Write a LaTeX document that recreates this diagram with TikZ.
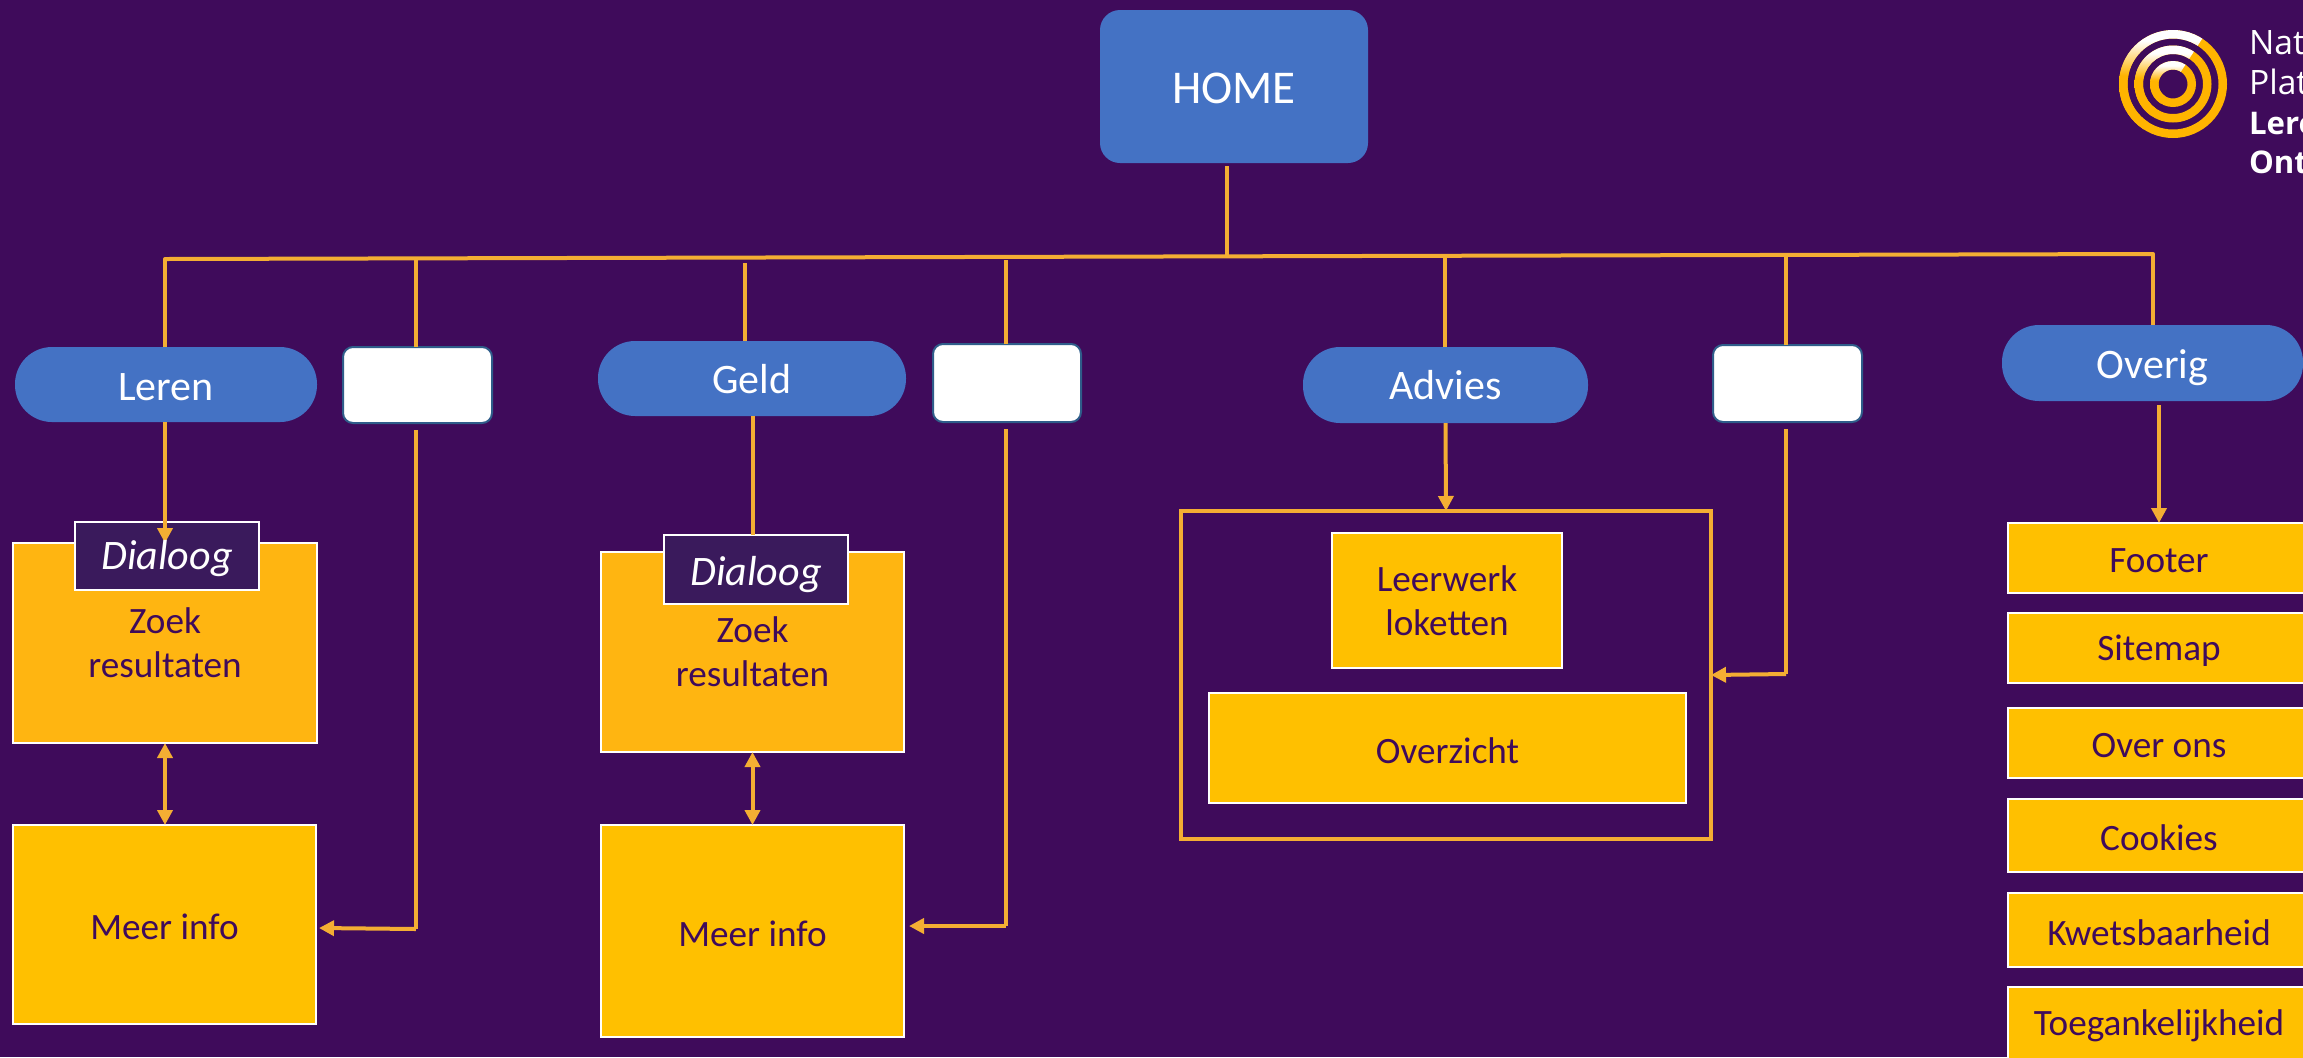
\documentclass[tikz,border=0pt]{standalone}
\usepackage{fontspec}
\setmainfont{Carlito}
\newfontfamily\logofont{Open Sans}
\usetikzlibrary{arrows.meta}
\definecolor{bgpurple}{HTML}{3F0B5B}
\definecolor{lineor}{HTML}{F4AE33}
\definecolor{boxor}{HTML}{FFC000}
\definecolor{zoekor}{HTML}{FFB511}
\definecolor{pillblue}{HTML}{4472C4}
\definecolor{dlgfill}{HTML}{3A1A5C}
\definecolor{wborder}{HTML}{2F5D8A}
\definecolor{ringor}{HTML}{FFB400}
\pgfdeclareverticalshading{ringgrad}{100bp}{color(0bp)=(ringor); color(54bp)=(ringor); color(70bp)=(white); color(100bp)=(white)}
\newcommand{\dn}[1]{\raisebox{-1.2pt}[\height][\depth]{#1}}
\newcommand{\bx}[7]{% name, x1,y1,x2,y2, style, text
  \pgfmathsetmacro{\bxw}{(#4-#2)*0.5}\pgfmathsetmacro{\bxh}{(#5-#3)*0.5}
  \pgfmathsetmacro{\bxx}{(#2+#4)/2}\pgfmathsetmacro{\bxy}{(#3+#5)/2}
  \node[#6,minimum width=\bxw pt,minimum height=\bxh pt] (#1) at (\bxx,\bxy) {#7};}
\tikzset{
  x=0.5pt,y=-0.5pt,
  base/.style={inner sep=0pt,outer sep=0pt,align=center},
  homebox/.style={base,fill=pillblue,rounded corners=10pt,text=white,font=\fontsize{23.5}{28}\selectfont},
  pill/.style={base,fill=pillblue,rounded corners=18.5pt,text=white,font=\fontsize{21}{25}\selectfont},
  whitebox/.style={base,fill=white,draw=wborder,line width=1pt,rounded corners=5pt},
  yellowbox/.style={base,fill=boxor,draw=white,line width=1pt,text=bgpurple,font=\fontsize{18.6}{22.2}\selectfont},
  zoekbox/.style={yellowbox,fill=zoekor},
  dlgbox/.style={base,fill=dlgfill,draw=white,line width=1pt},
  dlgtext/.style={base,text=white,font=\fontsize{21}{25}\selectfont\itshape},
  frame/.style={base,draw=lineor,line width=2pt},
  conn/.style={draw=lineor,line width=2pt},
  arrow/.style={conn,-{Triangle[length=7.5pt,width=7.5pt]}},
  biarrow/.style={conn,{Triangle[length=7.5pt,width=7.5pt]}-{Triangle[length=7.5pt,width=7.5pt]}},
  ringshade/.style={even odd rule,shading=ringgrad},
  ringsolid/.style={even odd rule,fill=ringor},
}
\begin{document}
\begin{tikzpicture}
\useasboundingbox (0,0) rectangle (2303,1057);
\clip (0,0) rectangle (2303,1057);
\fill[bgpurple] (0,0) rectangle (2303,1057);

% logo
\coordinate (logoc) at (2173,84);
\foreach \ro/\ri in {54/45.5,38.5/30,23/14.5}{
  \fill[ringsolid] (logoc) circle[radius=\ro*0.5pt] (logoc) circle[radius=\ri*0.5pt];
  \begin{scope}
    \clip (2211,25) -- (2135,143) -- (2076,105) -- (2152,-13) -- cycle;
    \shade[ringshade] (logoc) circle[radius=\ro*0.5pt] (logoc) circle[radius=\ri*0.5pt];
  \end{scope}
}
\node[base,anchor=north west,align=left,text=white,font=\logofont\fontsize{16.8}{19.8}\selectfont] (logotext) at (2249,31) {Nat\\Plat\\{\fontsize{15.6}{19.8}\selectfont\textbf{Lere}}\\{\fontsize{15.6}{19.8}\selectfont\textbf{Ont}}};

% boxes
\bx{home}{1100}{10}{1368}{163}{homebox}{\dn{HOME}}
\bx{leren}{15}{347}{317}{422}{pill}{\dn{Leren}}
\bx{geld}{598}{341}{906}{416}{pill}{\raisebox{-0.4pt}[\height][\depth]{Geld}}
\bx{advies}{1303}{347}{1588}{423}{pill}{Advies}
\bx{overig}{2002}{325}{2303}{401}{pill}{\raisebox{-2.2pt}[\height][\depth]{Overig}}
\bx{w1}{343}{347}{492}{423}{whitebox}{}
\bx{w2}{933}{344}{1081}{422}{whitebox}{}
\bx{w3}{1713}{345}{1862}{422}{whitebox}{}
\bx{zoek1}{13}{543}{317}{743}{zoekbox}{Zoek\\resultaten}
\bx{zoek2}{601}{552}{904}{752}{zoekbox}{Zoek\\resultaten}
\bx{meer1}{13}{825}{316}{1024}{yellowbox}{\dn{Meer info}}
\bx{meer2}{601}{825}{904}{1037}{yellowbox}{\dn{Meer info}}
\bx{dbox1}{75}{522}{259}{590}{dlgbox}{}
\bx{dbox2}{664}{535}{848}{604}{dlgbox}{}
\bx{advframe}{1181}{511}{1711}{839}{frame}{}
\bx{leerwerk}{1332}{533}{1562}{668}{yellowbox}{Leerwerk\\loketten}
\bx{overzicht}{1209}{693}{1686}{803}{yellowbox}{\dn{Overzicht}}
\bx{footer}{2008}{523}{2310}{593}{yellowbox}{\dn{Footer}}
\bx{sitemap}{2008}{613}{2310}{683}{yellowbox}{\dn{Sitemap}}
\bx{overons}{2008}{708}{2310}{778}{yellowbox}{\dn{Over ons}}
\bx{cookies}{2008}{799}{2310}{872}{yellowbox}{\dn{Cookies}}
\bx{kwets}{2008}{893}{2310}{967}{yellowbox}{\dn{Kwetsbaarheid}}
\bx{toeg}{2008}{987}{2310}{1060}{yellowbox}{\dn{Toegankelijkheid}}

% trunk
\coordinate (tl) at (165,259);
\coordinate (tr) at (2153,254);
\coordinate (stemtop) at (1227,166);
\coordinate (stembot) at (1227,255);
\coordinate (t2) at (416,260);
\coordinate (t3) at (745,263);
\coordinate (t4) at (1006,260);
\coordinate (t5) at (1445,258);
\coordinate (t6) at (1786,257);
\draw[conn,line cap=round] (tl) -- (tr);
\draw[conn] (stemtop) -- (stembot);
\draw[conn] (tl) -- (leren.north -| tl);
\draw[conn] (t2) -- (w1.north -| t2);
\draw[conn] (t3) -- (geld.north -| t3);
\draw[conn] (t4) -- (w2.north -| t4);
\draw[conn] (t5) -- (advies.north -| t5);
\draw[conn] (t6) -- (w3.north -| t6);
\draw[conn] (tr) -- (overig.north -| tr);

% downward connectors
\draw[arrow] (leren.south -| zoek1.north) -- (zoek1.north);
\draw[conn] (geld.south -| zoek2.north) -- (dbox2.north -| zoek2.north);
\node[dlgtext] (d1) at (167,559) {Dialoog};
\node[dlgtext] (d2) at (756,575) {Dialoog};
\draw[biarrow] (zoek1.south) -- (meer1.north -| zoek1.south);
\draw[biarrow] (zoek2.south) -- (meer2.north -| zoek2.south);

\coordinate (w1b) at (416,430);
\coordinate (w1c) at (416,929);
\draw[conn] (w1b) -- (w1c);
\draw[arrow] (w1c) -- (319,928);
\coordinate (w2b) at (1006,429);
\coordinate (w2c) at (1006,926);
\draw[conn] (w2b) -- (w2c);
\draw[arrow] (w2c) -- (909,926);
\coordinate (w3b) at (1786,429);
\coordinate (w3c) at (1786,674);
\draw[conn] (w3b) -- (w3c);
\draw[arrow] (w3c) -- (advframe.east |- 0,675);
\draw[arrow] (advies.south) -- (advframe.north);
\coordinate (ovb) at (2159,405);
\draw[arrow] (ovb) -- (footer.north);
\end{tikzpicture}
\end{document}
